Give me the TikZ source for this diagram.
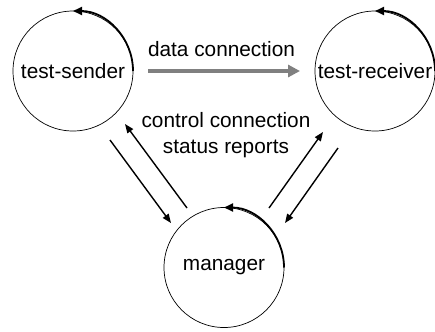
\documentclass[tikz,border=0pt]{standalone}
\usepackage{fontspec}
\setmainfont{Liberation Sans}
\usetikzlibrary{arrows.meta}
\definecolor{arrgray}{RGB}{128,128,128}
\tikzset{
  proc/.style={circle, draw, line width=0.7bp, minimum size=120bp, inner sep=0pt, outer sep=0pt, font=\fontsize{20.8bp}{25bp}\selectfont},
  loop/.style={line width=1.8bp, -{Triangle[length=9bp,width=8bp]}},
  ctrl/.style={line width=1.4bp, -{Triangle[length=9bp,width=7bp]}},
  dataarr/.style={line width=4.5bp, draw=arrgray, -{Triangle[length=12bp,width=12bp,fill=arrgray]}},
  lbl/.style={font=\fontsize{20.8bp}{25bp}\selectfont, anchor=base, inner sep=0pt}
}
\begin{document}
\begin{tikzpicture}[x=1bp,y=-1bp]
\useasboundingbox (0,0) rectangle (435,331);
\node[proc] (sender) at (73,71) {test-sender};
\node[proc] (receiver) at (375,71) {test-receiver};
\node[proc] (manager) at (224,267.5) {manager};
\draw[loop] (sender.east) arc[start angle=0, end angle=90, radius=60bp];
\draw[loop] (receiver.east) arc[start angle=0, end angle=90, radius=60bp];
\draw[loop] (manager.east) arc[start angle=0, end angle=90, radius=60bp];
\draw[dataarr, shorten <=15bp, shorten >=15bp] (sender) -- (receiver);
\node[lbl] (datalbl) at (221.5,56) {data connection};
\node[lbl] (ctrllbl) at (226,127) {control connection};
\node[lbl] (statlbl) at (226,153) {status reports};
\coordinate (a1s) at (110,140); \coordinate (a1e) at (171,223);
\coordinate (a2s) at (187,208); \coordinate (a2e) at (125,124);
\coordinate (a3s) at (269,208); \coordinate (a3e) at (323,132);
\coordinate (a4s) at (338,148); \coordinate (a4e) at (285,223);
\draw[ctrl] (a1s) -- (a1e);
\draw[ctrl] (a2s) -- (a2e);
\draw[ctrl] (a3s) -- (a3e);
\draw[ctrl] (a4s) -- (a4e);
\end{tikzpicture}
\end{document}
